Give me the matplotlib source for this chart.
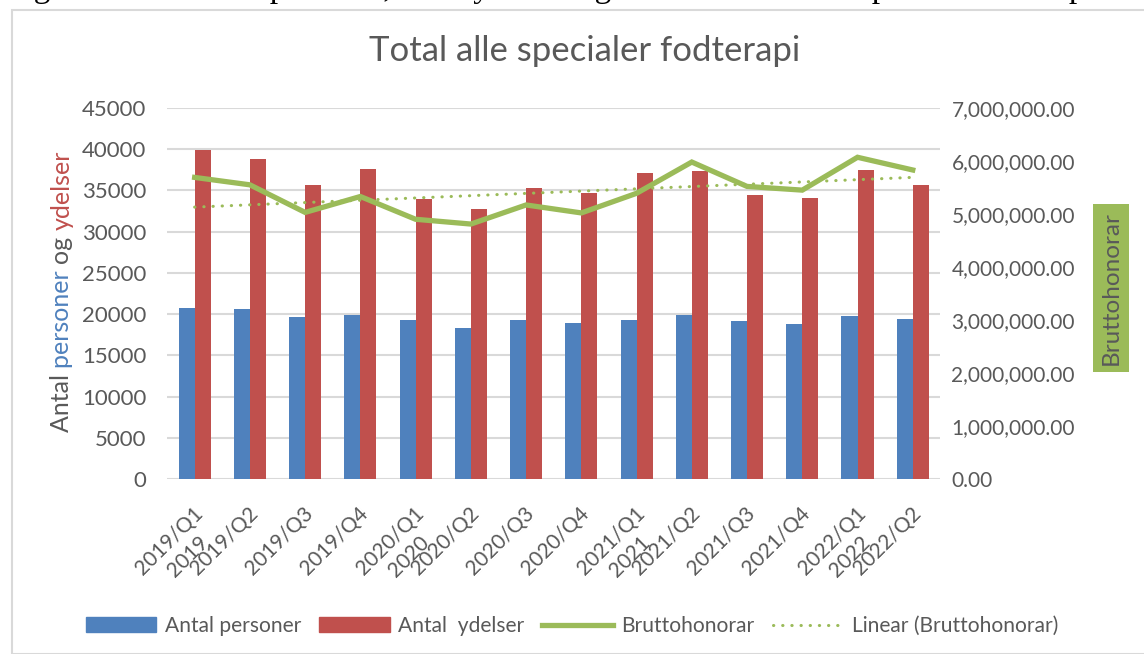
import numpy as np
import matplotlib.pyplot as plt
from matplotlib.patches import Rectangle
from matplotlib.lines import Line2D
import matplotlib.transforms as mtransforms

plt.rcParams['font.family'] = ['Lato', 'DejaVu Sans']

quarters = ['2019/Q1', '2019/Q2', '2019/Q3', '2019/Q4',
            '2020/Q1', '2020/Q2', '2020/Q3', '2020/Q4',
            '2021/Q1', '2021/Q2', '2021/Q3', '2021/Q4',
            '2022/Q1', '2022/Q2']
personer = [20700, 20570, 19600, 19840, 19230, 18260, 19230, 18870,
            19230, 19840, 19110, 18750, 19720, 19350]
ydelser = [39900, 38800, 35680, 37620, 34000, 32780, 35300, 34700,
           37140, 37300, 34450, 34100, 37500, 35680]
brutto = [5.69e6, 5.55e6, 5.03e6, 5.33e6, 4.90e6, 4.81e6, 5.17e6, 5.02e6,
          5.39e6, 5.98e6, 5.52e6, 5.45e6, 6.07e6, 5.83e6]

BLUE = '#4F81BD'
RED = '#C0504D'
GREEN = '#9BBB59'
GRAY = '#595959'
GRID = '#D9D9D9'

fig = plt.figure(figsize=(11.44, 6.54), dpi=100)
ax = fig.add_axes([0.146, 0.2676, 0.676, 0.5673])
ax2 = ax.twinx()

x = np.arange(len(quarters))
w = 0.29
ax.bar(x - w / 2, personer, w, color=BLUE, zorder=2)
ax.bar(x + w / 2, ydelser, w, color=RED, zorder=2)

# trend line (linear fit of bruttohonorar)
k, m = np.polyfit(x, brutto, 1)
ax2.plot(x, brutto, color=GREEN, lw=3.8, solid_joinstyle='miter', zorder=3)
ax2.plot(x, k * x + m, color=GREEN, lw=2.2, linestyle=(0, (0.1, 2.9)),
         dash_capstyle='round', zorder=3)

ax.set_xlim(-0.5, len(quarters) - 0.5)
ax.set_ylim(0, 45000)
ax.set_yticks(np.arange(0, 45001, 5000))
ax2.set_ylim(0, 7e6)
ax2.set_yticks(np.arange(0, 7e6 + 1, 1e6))
ax2.set_yticklabels([f'{v:,.2f}' for v in np.arange(0, 7e6 + 1, 1e6)])

ax.grid(axis='y', color=GRID, lw=1.5, zorder=0)
ax.set_axisbelow(True)
for a in (ax, ax2):
    for s in a.spines.values():
        s.set_visible(False)
    a.tick_params(length=0, labelcolor=GRAY)
ax.tick_params(axis='y', pad=15, labelsize=16)
ax2.tick_params(axis='y', pad=8, labelsize=15)

ax.set_xticks(x)
ax.set_xticklabels(quarters, rotation=45, ha='right', rotation_mode='anchor', fontsize=15)
ax.tick_params(axis='x', pad=10)
shift = mtransforms.ScaledTranslation(-2 / 100, -10 / 100, fig.dpi_scale_trans)
for lab in ax.get_xticklabels():
    lab.set_transform(lab.get_transform() + shift)

# second-level year labels under each Q1
off = mtransforms.offset_copy(ax.get_xaxis_transform(), fig=fig, x=10, y=-60, units='dots')
for i, q in enumerate(quarters):
    if q.endswith('Q1'):
        ax.text(i, 0, q[:4], transform=off, rotation=45, ha='right', va='center',
                rotation_mode='anchor', fontsize=15, color=GRAY)

fig.text(0.511, 0.922, 'Total alle specialer fodterapi', ha='center', va='center',
         fontsize=25, color=GRAY)

# multicoloured left axis label
t1 = fig.text(0.054, 0.339, 'Antal ', rotation=90, ha='center', va='bottom',
              fontsize=18, color=GRAY)
t2 = ax.annotate('personer ', xy=(0.5, 1), xycoords=t1, rotation=90, ha='center',
                 va='bottom', fontsize=18, color=BLUE)
t3 = ax.annotate('og ', xy=(0.5, 1), xycoords=t2, rotation=90, ha='center',
                 va='bottom', fontsize=18, color=GRAY)
ax.annotate('ydelser', xy=(0.5, 1), xycoords=t3, rotation=90, ha='center',
            va='bottom', fontsize=18, color=RED)

fig.text(0.971, 0.56, 'Bruttohonorar', rotation=90, ha='center', va='center',
         fontsize=17.5, color=GRAY,
         bbox=dict(boxstyle='square,pad=0.3', fc=GREEN, ec='none'))

handles = [Rectangle((0, 0), 1, 1, color=BLUE),
           Rectangle((0, 0), 1, 1, color=RED),
           Line2D([], [], color=GREEN, lw=3.8),
           Line2D([], [], color=GREEN, lw=2.2, linestyle=(0, (0.1, 2.9)),
                  dash_capstyle='round')]
labels = ['Antal personer', 'Antal  ydelser', 'Bruttohonorar', 'Linear (Bruttohonorar)']
leg = fig.legend(handles, labels, loc='center', bbox_to_anchor=(0.5, 0.043), ncol=4,
                 frameon=False, fontsize=15.1, handlelength=3.35, handletextpad=0.42,
                 columnspacing=0.85)
for t in leg.get_texts():
    t.set_color(GRAY)

# chart frame and cut-off caption above it
fig.patches.append(Rectangle((12 / 1144, 0), 1.2, 1 - 10 / 654, transform=fig.transFigure,
                             fill=False, ec=GRID, lw=1.5))
fig.text(6 / 1144, 1 + 3 / 654,
         'Figur 1: Total antal personer, antal ydelser og bruttohonorar for speciale fodterapi',
         ha='left', va='baseline', fontsize=24, family='Liberation Serif', color='black')

fig.savefig('out.png', dpi=100)
